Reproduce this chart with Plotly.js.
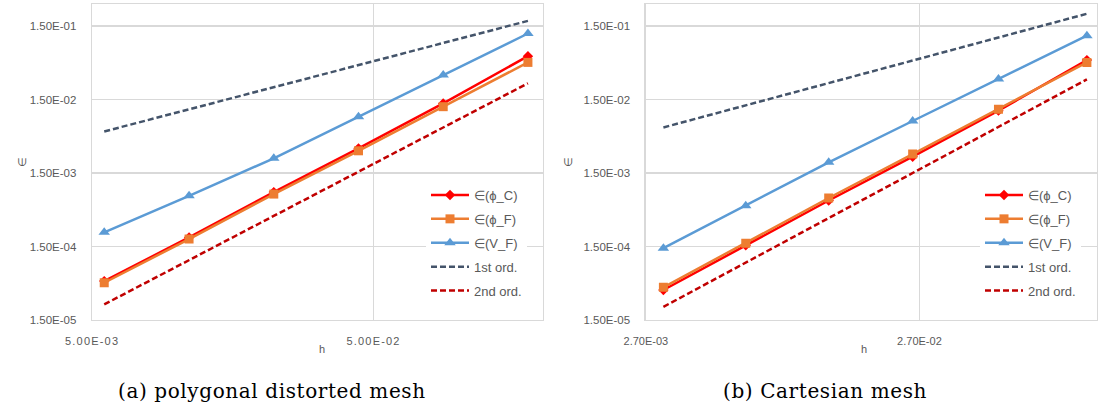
<!DOCTYPE html>
<html>
<head>
<meta charset="utf-8">
<script src="https://cdn.plot.ly/plotly-3.0.1.min.js"></script>
<style>
  html, body { margin: 0; padding: 0; background: #fff; }
  #chart { width: 1098px; height: 411px; }
  .xtick text { letter-spacing: 1.2px; }
  .annotation-text { letter-spacing: 0.6px; }
</style>
</head>
<body>
<div id="chart"></div>
<script>
// ---- data: (a) polygonal distorted mesh ----
const hA        = [0.00552, 0.01105, 0.0221, 0.0442, 0.0884, 0.1768];
const phiC_A    = [5.07e-5, 1.99e-4, 8.25e-4, 3.25e-3, 1.33e-2, 5.85e-2];
const phiF_A    = [4.81e-5, 1.895e-4, 7.75e-4, 3.01e-3, 1.20e-2, 4.81e-2];
const VF_A      = [2.34e-4, 7.34e-4, 2.38e-3, 8.77e-3, 3.23e-2, 0.119];
const ord1_A    = [0.00552, 0.01105, 0.0221, 0.0442, 0.0884, 0.1768];
const ord2_A    = [2.44e-5, 9.77e-5, 3.91e-4, 1.56e-3, 6.25e-3, 2.50e-2];

// ---- data: (b) Cartesian mesh ----
const hB        = [0.00313, 0.00626, 0.01258, 0.0255, 0.0525, 0.1105];
const phiC_B    = [3.83e-5, 1.56e-4, 6.34e-4, 2.50e-3, 1.06e-2, 5.17e-2];
const phiF_B    = [4.17e-5, 1.66e-4, 6.85e-4, 2.72e-3, 1.11e-2, 4.81e-2];
const VF_B      = [1.42e-4, 5.38e-4, 2.10e-3, 7.66e-3, 2.85e-2, 0.111];
const ord1_B    = [0.00626, 0.01252, 0.02516, 0.051, 0.105, 0.221];
const ord2_B    = [2.26e-5, 9.05e-5, 3.66e-4, 1.50e-3, 6.37e-3, 2.82e-2];

// ---- labels / ticks ----
const seriesNames = ["\u2208(\u03d5_C)", "\u2208(\u03d5_F)", "\u2208(V_F)", "1st ord.", "2nd ord."];
const yTickVals  = [1.5e-5, 1.5e-4, 1.5e-3, 1.5e-2, 1.5e-1];
const yTickText  = ["1.50E-05", "1.50E-04", "1.50E-03", "1.50E-02", "1.50E-01"];
const xTickValsA = [0.005, 0.05];
const xTickTextA = ["5.00E-03", "5.00E-02"];
const xTickValsB = [0.0027, 0.027];
const xTickTextB = ["2.70E-03", "2.70E-02"];
const captions   = ["(a) polygonal distorted mesh", "(b) Cartesian mesh"];
const yTitle = "\u2208";
const xTitle = "h";

const styles = [
  {color: "#ff0000", symbol: "diamond", msize: 8, dash: "solid"},
  {color: "#ed7d31", symbol: "square", msize: 9, dash: "solid"},
  {color: "#5b9bd5", symbol: "triangle-up", msize: 10, dash: "solid"},
  {color: "#44546a", symbol: null, msize: 0, dash: "6px,3px"},
  {color: "#c00000", symbol: null, msize: 0, dash: "6px,3px"}
];

function makeTraces(h, sets, xa, ya, legendName) {
  return sets.map((vals, i) => {
    const s = styles[i];
    const t = {
      x: h, y: vals, xaxis: xa, yaxis: ya, name: seriesNames[i],
      legend: legendName, legendgroup: legendName + i,
      type: "scatter",
      mode: s.symbol ? "lines+markers" : "lines",
      line: {color: s.color, width: 2.5, dash: s.dash},
      hoverinfo: "skip"
    };
    if (s.symbol) t.marker = {symbol: s.symbol, size: s.msize, color: s.color};
    return t;
  });
}

const traces = [
  ...makeTraces(hA, [phiC_A, phiF_A, VF_A, ord1_A, ord2_A], "x", "y", "legend"),
  ...makeTraces(hB, [phiC_B, phiF_B, VF_B, ord1_B, ord2_B], "x2", "y2", "legend2")
];

const W = 1098, H = 411;
const gridC = "#d9d9d9";
const tickFont = {family: "Liberation Sans, Arial, sans-serif", size: 11.5, color: "#595959"};

function yAxis(domainAnchor) {
  return {
    type: "log", anchor: domainAnchor,
    domain: [1 - 320 / H, 1 - 4 / H],
    range: [Math.log10(1.5e-5) - 0.001, Math.log10(0.3)],
    tickvals: yTickVals, ticktext: yTickText,
    showgrid: true, gridcolor: gridC, gridwidth: 1.3,
    showline: true, linecolor: gridC, linewidth: 1.3, mirror: true,
    zeroline: false, ticks: "", ticklabelstandoff: 12,
    tickfont: tickFont
  };
}
function xAxis(domain, range, tv, tt, anchor) {
  return {
    type: "log", anchor: anchor, domain: domain, range: range,
    tickvals: tv, ticktext: tt,
    showgrid: true, gridcolor: gridC, gridwidth: 1.3,
    showline: true, linecolor: gridC, linewidth: 1.3, mirror: true,
    zeroline: false, ticks: "", ticklabelstandoff: 10,
    tickfont: {family: "Liberation Sans, Arial, sans-serif", size: 11, color: "#595959"}
  };
}

const legendBase = {
  bgcolor: "#ffffff", borderwidth: 0,
  font: {family: "Liberation Sans, Arial, sans-serif", size: 13, color: "#595959"},
  traceorder: "grouped", tracegroupgap: 4,
  itemwidth: 38, xanchor: "left", yanchor: "top", itemclick: false
};

const layout = {
  width: W, height: H,
  margin: {l: 0, r: 0, t: 0, b: 0},
  paper_bgcolor: "#ffffff", plot_bgcolor: "#ffffff",
  showlegend: true,
  xaxis: xAxis([92 / W, 543 / W], [Math.log10(0.005) - 0.0005, Math.log10(0.2)], xTickValsA, xTickTextA, "y"),
  yaxis: yAxis("x"),
  xaxis2: xAxis([645.7 / W, 1096.7 / W], [Math.log10(0.0027) - 0.0005, Math.log10(0.12)], xTickValsB, xTickTextB, "y2"),
  yaxis2: yAxis("x2"),
  legend: Object.assign({}, legendBase, {x: 426 / W, y: 1 - 180 / H}),
  legend2: Object.assign({}, legendBase, {x: 980 / W, y: 1 - 180 / H}),
  annotations: [
    {text: yTitle, x: 14 / W, y: 1 - 162 / H, xref: "paper", yref: "paper", showarrow: false,
     textangle: -90, font: {family: "Liberation Sans, Arial, sans-serif", size: 11, color: "#595959"}},
    {text: yTitle, x: 568 / W, y: 1 - 162 / H, xref: "paper", yref: "paper", showarrow: false,
     textangle: -90, font: {family: "Liberation Sans, Arial, sans-serif", size: 11, color: "#595959"}},
    {text: xTitle, x: 317 / W, y: 1 - 357 / H, xref: "paper", yref: "paper", showarrow: false,
     font: {family: "Liberation Sans, Arial, sans-serif", size: 11, color: "#595959"}},
    {text: xTitle, x: 870 / W, y: 1 - 357 / H, xref: "paper", yref: "paper", showarrow: false,
     font: {family: "Liberation Sans, Arial, sans-serif", size: 11, color: "#595959"}},
    {text: captions[0], x: 272 / W, y: 1 - 391 / H, xref: "paper", yref: "paper", showarrow: false,
     xanchor: "center", yanchor: "middle",
     font: {family: "DejaVu Serif, serif", size: 20, color: "#000000"}},
    {text: captions[1], x: 825 / W, y: 1 - 391 / H, xref: "paper", yref: "paper", showarrow: false,
     xanchor: "center", yanchor: "middle",
     font: {family: "DejaVu Serif, serif", size: 20, color: "#000000"}}
  ]
};

Plotly.newPlot("chart", traces, layout, {staticPlot: true, displayModeBar: false});
</script>
</body>
</html>
